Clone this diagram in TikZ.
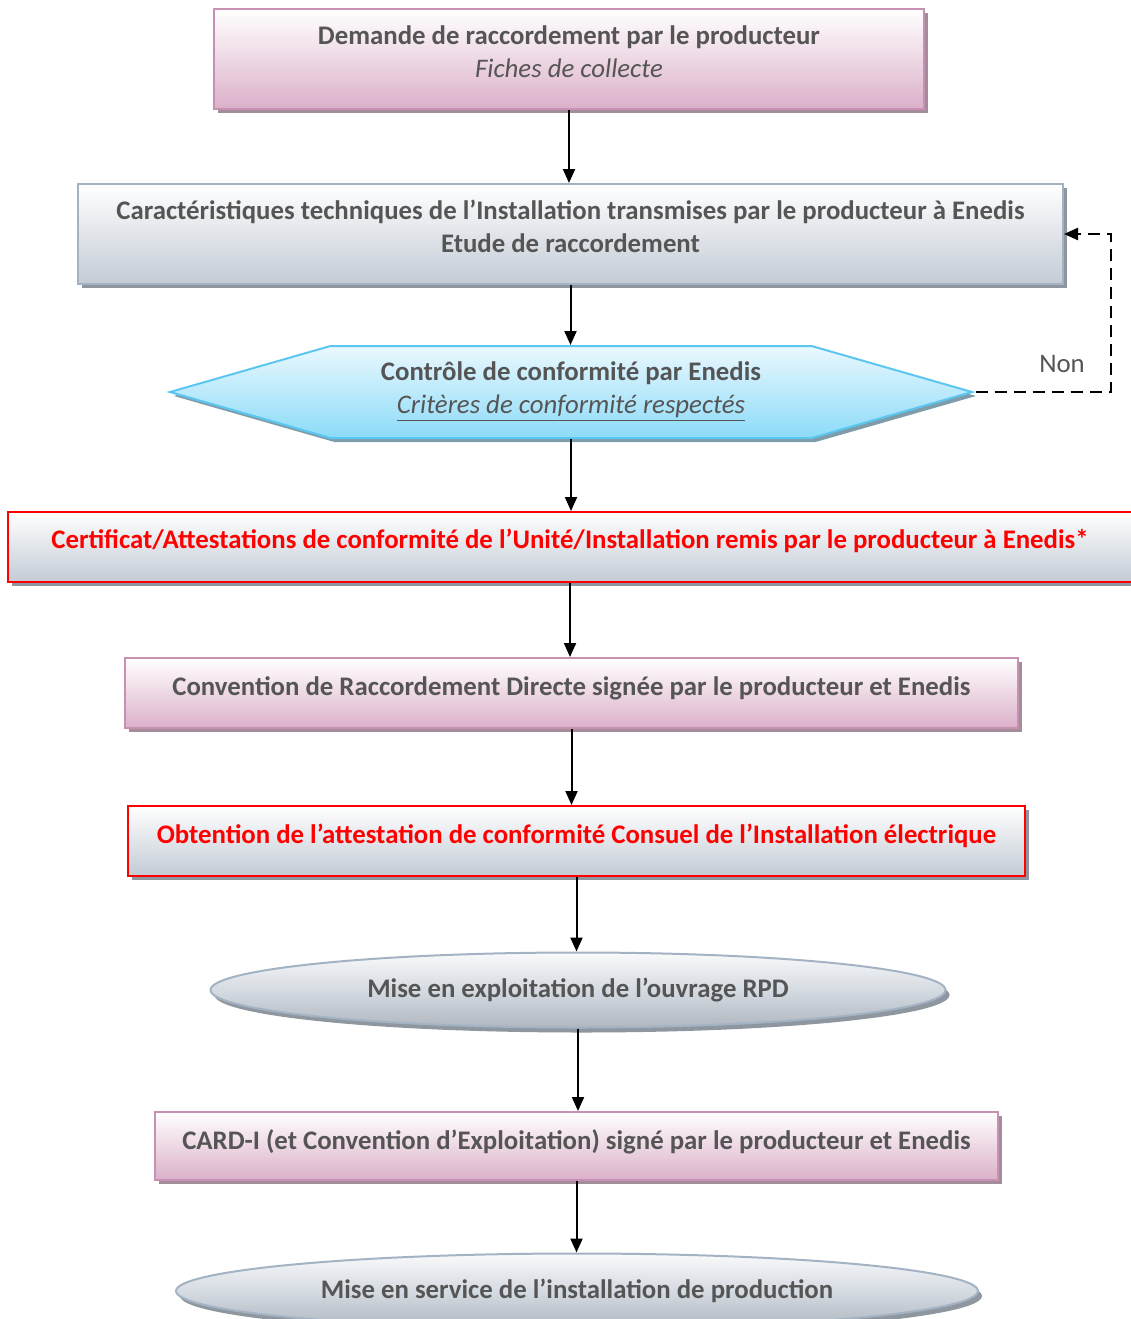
\documentclass[tikz,border=0pt]{standalone}
\usepackage{fontspec}
\setmainfont{Carlito}
\usepackage{xcolor}
\usetikzlibrary{positioning, arrows.meta, shapes.geometric, shapes.symbols, shadows}

\definecolor{txtgray}{HTML}{555555}
\definecolor{pinkdark}{HTML}{DBB0C9}
\definecolor{pinkline}{HTML}{C890B2}
\definecolor{pinkshadow}{HTML}{A38D9A}
\definecolor{bluedark}{HTML}{C3CBD5}
\definecolor{blueline}{HTML}{A3B3C4}
\definecolor{blueshadow}{HTML}{8E979F}
\definecolor{cyanlight}{HTML}{EAF8FE}
\definecolor{cyandark}{HTML}{8CDBF8}
\definecolor{cyanline}{HTML}{5BC7F1}
\definecolor{cyanshadow}{HTML}{7E9DAB}
\definecolor{redline}{HTML}{FF0000}

\begin{document}
\begin{tikzpicture}[x=0.5pt, y=-0.5pt,
    every node/.style={font=\fontsize{13.4}{16.5}\selectfont\bfseries, text=txtgray, align=center},
    pink box/.style={rectangle, draw=pinkline, line width=1pt, top color=white, bottom color=pinkdark, middle color=pinkdark!50,
        drop shadow={shadow xshift=2pt, shadow yshift=-2pt, fill=pinkshadow, opacity=1}},
    blue box/.style={rectangle, draw=blueline, line width=1pt, top color=white, bottom color=bluedark, middle color=bluedark!50,
        drop shadow={shadow xshift=2pt, shadow yshift=-2pt, fill=blueshadow, opacity=1}},
    red box/.style={blue box, draw=redline, text=redline},
    hex node/.style={signal, signal to=east and west, signal pointer angle=32, draw=cyanline, line width=1pt,
        top color=cyanlight, bottom color=cyandark,
        drop shadow={shadow xshift=2pt, shadow yshift=-2pt, fill=cyanshadow, opacity=1}},
    oval node/.style={ellipse, draw=blueline, line width=1pt, top color=white!90!bluedark, bottom color=bluedark!90!black,
        middle color=bluedark!70,
        drop shadow={shadow xshift=2pt, shadow yshift=-2.5pt, fill=blueshadow, opacity=1}},
    arrow/.style={-{Triangle[length=7pt, width=6pt]}, line width=1pt},
    back arrow/.style={arrow, line width=1.1pt, dash pattern=on 6pt off 3.5pt}
]
\useasboundingbox (0,0) rectangle (1131,1319);

% boxes
\node[pink box, minimum width=355pt, minimum height=50pt, text depth=7pt] (demande) at (569,59)
    {Demande de raccordement par le producteur\\ \mdseries\itshape Fiches de collecte};
\node[blue box, minimum width=492.5pt, minimum height=50pt, text depth=8pt] (carac) at (570.5,234)
    {Caractéristiques techniques de l’Installation transmises par le producteur à Enedis\\ Etude de raccordement};
\node[hex node, minimum width=401pt, minimum height=46pt] (ctrl) at (571,392)
    {Contrôle de conformité par Enedis\\ \mdseries\itshape\underline{Critères de conformité respectés}};
\node[red box, minimum width=562pt, minimum height=35pt, text depth=8pt] (certif) at (570,547)
    {Certificat/Attestations de conformité de l’Unité/Installation remis par le producteur à Enedis*};
\node[pink box, minimum width=446.5pt, minimum height=35pt, text depth=7pt] (convention) at (571.5,693)
    {Convention de Raccordement Directe signée par le producteur et Enedis};
\node[red box, minimum width=448.5pt, minimum height=35pt, text depth=7pt] (consuel) at (576.5,841)
    {Obtention de l’attestation de conformité Consuel de l’Installation électrique};
\node[oval node, minimum width=367.5pt, minimum height=37.5pt] (exploit) at (578,990)
    {Mise en exploitation de l’ouvrage RPD};
\node[pink box, minimum width=421.5pt, minimum height=34pt, text depth=6pt] (card) at (576.5,1146)
    {CARD-I (et Convention d’Exploitation) signé par le producteur et Enedis};
\node[oval node, minimum width=401pt, minimum height=37.5pt] (service) at (577,1291)
    {Mise en service de l’installation de production};

% liens
\draw[arrow] (demande.south) -- (demande.south |- carac.north);
\draw[arrow] (carac.south) -- (carac.south |- ctrl.north);
\draw[arrow] (ctrl.south) -- (ctrl.south |- certif.north);
\draw[arrow] (certif.south) -- (certif.south |- convention.north);
\draw[arrow] (convention.south) -- (convention.south |- consuel.north);
\draw[arrow] (consuel.south) -- (consuel.south |- exploit.north);
\draw[arrow] (exploit.south) -- (exploit.south |- card.north);
\draw[arrow] (card.south) -- (card.south |- service.north);

% retour si non conforme
\coordinate (retour) at (1111,392);
\draw[back arrow] (ctrl.east) -- (retour) |- (carac.east);
\node[font=\fontsize{13.4}{16}\selectfont, text=txtgray] (non) at (1062,364) {Non};

\end{tikzpicture}
\end{document}
